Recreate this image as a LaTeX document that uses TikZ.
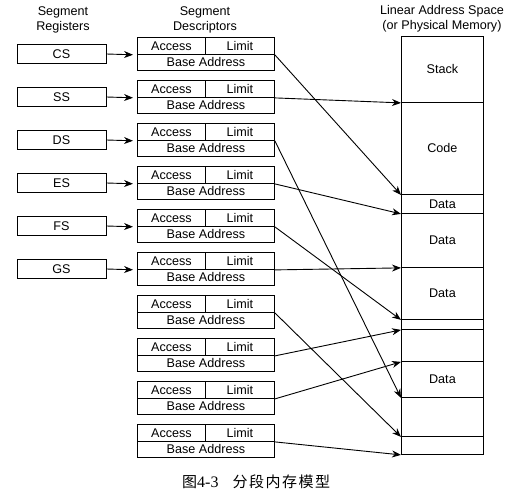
\documentclass[tikz,border=0pt]{standalone}
\usepackage{fontspec}
\setmainfont{Liberation Sans}
\newfontfamily\cjk{Noto Sans CJK SC}
\newfontfamily\serifnum{Liberation Serif}
\usetikzlibrary{arrows.meta}
\begin{document}
\begin{tikzpicture}[x=1pt,y=-1pt,
  lbl/.style={font=\fontsize{12.6}{14.5}\selectfont, inner sep=0pt, align=center},
  cell/.style={draw, line width=0.9pt, inner sep=0pt, anchor=north west, font=\fontsize{12.6}{14}\selectfont},
  arr/.style={-{Stealth[length=9pt,width=7pt]}, line width=0.9pt}]
\useasboundingbox (0,0) rectangle (515,492);

% headers
\node[lbl] (h1) at (63,20) {Segment\\Registers};
\node[lbl] (h2) at (205,20) {Segment\\Descriptors};
\node[lbl] (h3) at (442,18.5) {Linear Address Space\\(or Physical Memory)};

% descriptors
\foreach \i in {0,...,9} {
  \pgfmathsetmacro\t{37+43*\i}
  \node[cell, minimum width=68pt, minimum height=17pt] (a\i) at (137,\t) {Access};
  \node[cell, minimum width=69pt, minimum height=17pt] (l\i) at (205,\t) {Limit};
  \node[cell, minimum width=137pt, minimum height=16pt] (b\i) at (137,\t+17) {Base Address};
}

% registers
\foreach \n [count=\k from 0] in {CS,SS,DS,ES,FS,GS} {
  \node[cell, anchor=center, minimum width=89pt, minimum height=19pt] (r\k) at (61.5,{54+43*\k}) {\n};
  \draw[arr, shorten >=4pt] (r\k.east) -- (a\k.south west);
}

% memory column
\node[cell, minimum width=82pt, minimum height=66pt] (s1) at (401,36) {Stack};
\node[cell, minimum width=82pt, minimum height=92pt] (s2) at (401,102) {Code};
\node[cell, minimum width=82pt, minimum height=19pt] (s3) at (401,194) {Data};
\node[cell, minimum width=82pt, minimum height=54pt] (s4) at (401,213) {Data};
\node[cell, minimum width=82pt, minimum height=52pt] (s5) at (401,267) {Data};
\node[cell, minimum width=82pt, minimum height=10pt] (s6) at (401,319) {};
\node[cell, minimum width=82pt, minimum height=32pt] (s7) at (401,329) {};
\node[cell, minimum width=82pt, minimum height=36pt] (s8) at (401,361) {Data};
\node[cell, minimum width=82pt, minimum height=39pt] (s9) at (401,397) {};
\node[cell, minimum width=82pt, minimum height=18pt] (s10) at (401,436) {};

% descriptor -> memory
\draw[arr] (l0.south east) -- (s2.south west);
\draw[arr] (l1.south east) -- (s1.south west);
\draw[arr] (l2.south east) -- (s8.south west);
\draw[arr] (l3.south east) -- (s3.south west);
\draw[arr] (l4.south east) -- (s5.south west);
\draw[arr] (l5.south east) -- (s4.south west);
\draw[arr] (l6.south east) -- (s9.south west);
\draw[arr] (l7.south east) -- (s6.south west);
\draw[arr] (l8.south east) -- (s7.south west);
\draw[arr] (l9.south east) -- (s10.south west);

% caption
\node[anchor=west, inner sep=0pt, font=\fontsize{15}{17}\selectfont] (cap) at (182,482)
  {{\cjk 图}{\serifnum\fontsize{16}{17}\selectfont 4-3}\hspace{14pt}{\cjk 分\kern1.5pt 段\kern1.5pt 内\kern1.5pt 存\kern1.5pt 模\kern1.5pt 型}};
\end{tikzpicture}
\end{document}
